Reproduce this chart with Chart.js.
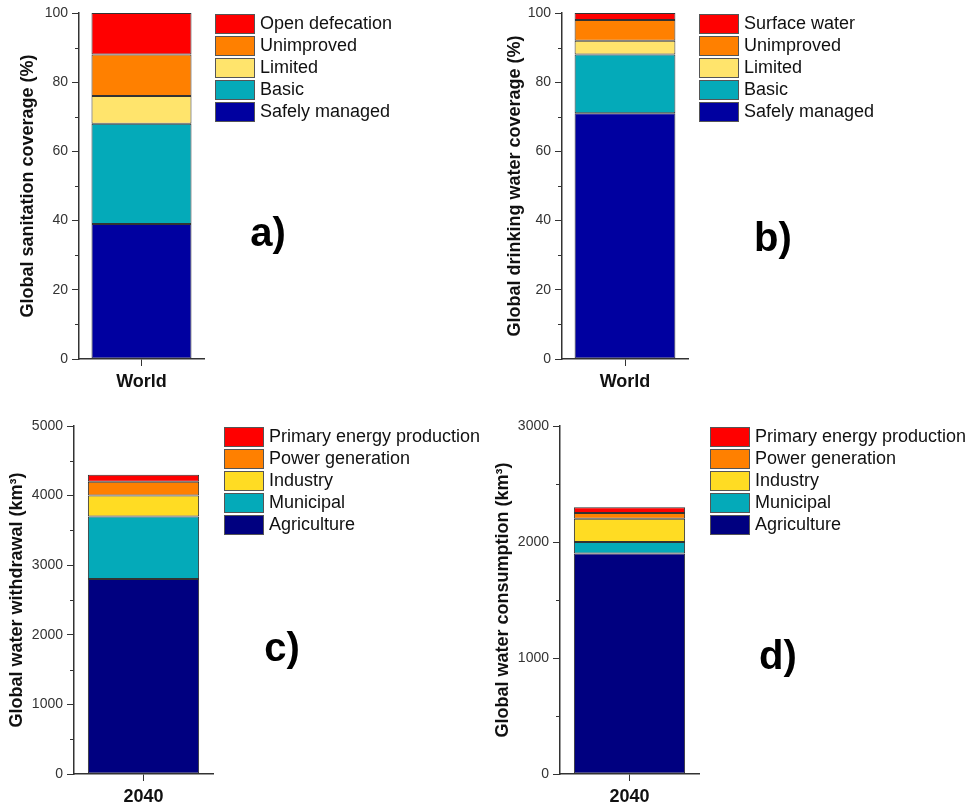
<!DOCTYPE html>
<html>
<head>
<meta charset="utf-8">
<script src="https://cdn.jsdelivr.net/npm/chart.js@4"></script>
<style>
  body { margin: 0; background: #fff; }
  .panel { position: absolute; width: 487px; height: 403px; }
</style>
</head>
<body>
<div class="panel" style="left:0;top:0"><canvas id="chartA" width="487" height="403"></canvas></div>
<div class="panel" style="left:487px;top:0"><canvas id="chartB" width="487" height="403"></canvas></div>
<div class="panel" style="left:0;top:403px"><canvas id="chartC" width="487" height="403"></canvas></div>
<div class="panel" style="left:487px;top:403px"><canvas id="chartD" width="487" height="403"></canvas></div>
<script>
const accessCategories = ["World"];
const sanitationLabels = ["Safely managed", "Basic", "Limited", "Unimproved", "Open defecation"];
const sanitationValues = [39, 29, 8, 12, 12];
const drinkingLabels = ["Safely managed", "Basic", "Limited", "Unimproved", "Surface water"];
const drinkingValues = [71, 17, 4, 6, 2];

const yearCategories = ["2040"];
const sectorLabels = ["Agriculture", "Municipal", "Industry", "Power generation", "Primary energy production"];
const withdrawalValues = [2800, 900, 300, 200, 100];
const consumptionValues = [1900, 100, 200, 50, 50];

const accessColors = ["#0000a0", "#04aab9", "#ffe46c", "#ff8000", "#ff0000"];
const sectorColors = ["#000080", "#04aab9", "#ffdc23", "#ff8000", "#ff0000"];

const FONT = "'Liberation Sans', Arial, sans-serif";
Chart.defaults.font.family = FONT;

// minor ticks, legend boxes and the panel letter
const extras = {
  id: "extras",
  afterDraw(chart, args, opts) {
    const ctx = chart.ctx;
    const area = chart.chartArea;
    const y = chart.scales.y;
    ctx.save();
    ctx.strokeStyle = "#333";
    ctx.lineWidth = 1;
    for (let v = opts.minorStep; v < y.max; v += opts.minorStep * 2) {
      const py = Math.round(y.getPixelForValue(v)) + 0.5;
      ctx.beginPath();
      ctx.moveTo(area.left - 4, py);
      ctx.lineTo(area.left, py);
      ctx.stroke();
    }

    const ds = chart.data.datasets;
    ctx.font = "18px " + FONT;
    ctx.textBaseline = "middle";
    const bx = area.right + 11;
    for (let i = 0; i < ds.length; i++) {
      const d = ds[ds.length - 1 - i];
      const top = area.top + 1 + i * 22;
      ctx.fillStyle = d.backgroundColor;
      ctx.fillRect(bx, top, 39, 19);
      ctx.strokeStyle = "#555";
      ctx.strokeRect(bx + 0.5, top + 0.5, 39, 19);
      ctx.fillStyle = "#111";
      ctx.fillText(d.label, bx + 45, top + 10);
    }

    ctx.font = "bold 40px " + FONT;
    ctx.textAlign = "center";
    ctx.fillStyle = "#000";
    ctx.fillText(opts.tag, opts.tagX, opts.tagY);
    ctx.restore();
  },
};

function makeChart(id, cfg) {
  return new Chart(document.getElementById(id), {
    type: "bar",
    data: {
      labels: cfg.categories,
      datasets: cfg.labels.map((label, i) => ({
        label: label,
        data: [cfg.values[i]],
        backgroundColor: cfg.colors[i],
        borderColor: "#333",
        borderWidth: 1,
        borderSkipped: false,
        barPercentage: 1,
        categoryPercentage: 0.8,
      })),
    },
    options: {
      responsive: false,
      animation: false,
      layout: {
        padding: { left: 0, top: cfg.area.top, right: 487 - cfg.area.right, bottom: 0 },
      },
      plugins: {
        legend: { display: false },
        tooltip: { enabled: false },
        extras: { minorStep: cfg.minorStep, tag: cfg.tag, tagX: cfg.tagX, tagY: cfg.tagY },
      },
      scales: {
        x: {
          stacked: true,
          ticks: { color: "#111", font: { size: 18, weight: "bold" }, padding: 5 },
          grid: { drawOnChartArea: false, offset: false, tickLength: 7, color: "#333" },
          border: { color: "#333", width: 1.5 },
          afterFit(scale) { scale.height = 403 - cfg.area.bottom; },
        },
        y: {
          stacked: true,
          min: 0,
          max: cfg.yMax,
          ticks: {
            stepSize: cfg.yStep,
            color: "#333",
            font: { size: 14 },
            padding: 4,
            callback: (v) => String(v),
          },
          grid: { drawOnChartArea: false, tickLength: 7, color: "#333" },
          border: { color: "#333", width: 1.5 },
          title: {
            display: true,
            text: cfg.yTitle,
            color: "#111",
            font: { size: 18, weight: "bold" },
            padding: { top: cfg.titlePad, bottom: 0 },
          },
          afterFit(scale) { scale.width = cfg.area.left; },
        },
      },
    },
    plugins: [extras],
  });
}

makeChart("chartA", {
  categories: accessCategories, labels: sanitationLabels, values: sanitationValues, colors: accessColors,
  yMax: 100, yStep: 20, minorStep: 10, yTitle: "Global sanitation coverage (%)", titlePad: 17,
  area: { left: 79, top: 13, right: 204, bottom: 359 }, tag: "a)", tagX: 268, tagY: 235,
});
makeChart("chartB", {
  categories: accessCategories, labels: drinkingLabels, values: drinkingValues, colors: accessColors,
  yMax: 100, yStep: 20, minorStep: 10, yTitle: "Global drinking water coverage (%)", titlePad: 17,
  area: { left: 75, top: 13, right: 201, bottom: 359 }, tag: "b)", tagX: 286, tagY: 240,
});
makeChart("chartC", {
  categories: yearCategories, labels: sectorLabels, values: withdrawalValues, colors: sectorColors,
  yMax: 5000, yStep: 1000, minorStep: 500, yTitle: "Global water withdrawal (km³)", titlePad: 6,
  area: { left: 74, top: 23, right: 213, bottom: 371 }, tag: "c)", tagX: 282, tagY: 247,
});
makeChart("chartD", {
  categories: yearCategories, labels: sectorLabels, values: consumptionValues, colors: sectorColors,
  yMax: 3000, yStep: 1000, minorStep: 500, yTitle: "Global water consumption (km³)", titlePad: 5,
  area: { left: 73, top: 23, right: 212, bottom: 371 }, tag: "d)", tagX: 291, tagY: 255,
});
</script>
</body>
</html>
